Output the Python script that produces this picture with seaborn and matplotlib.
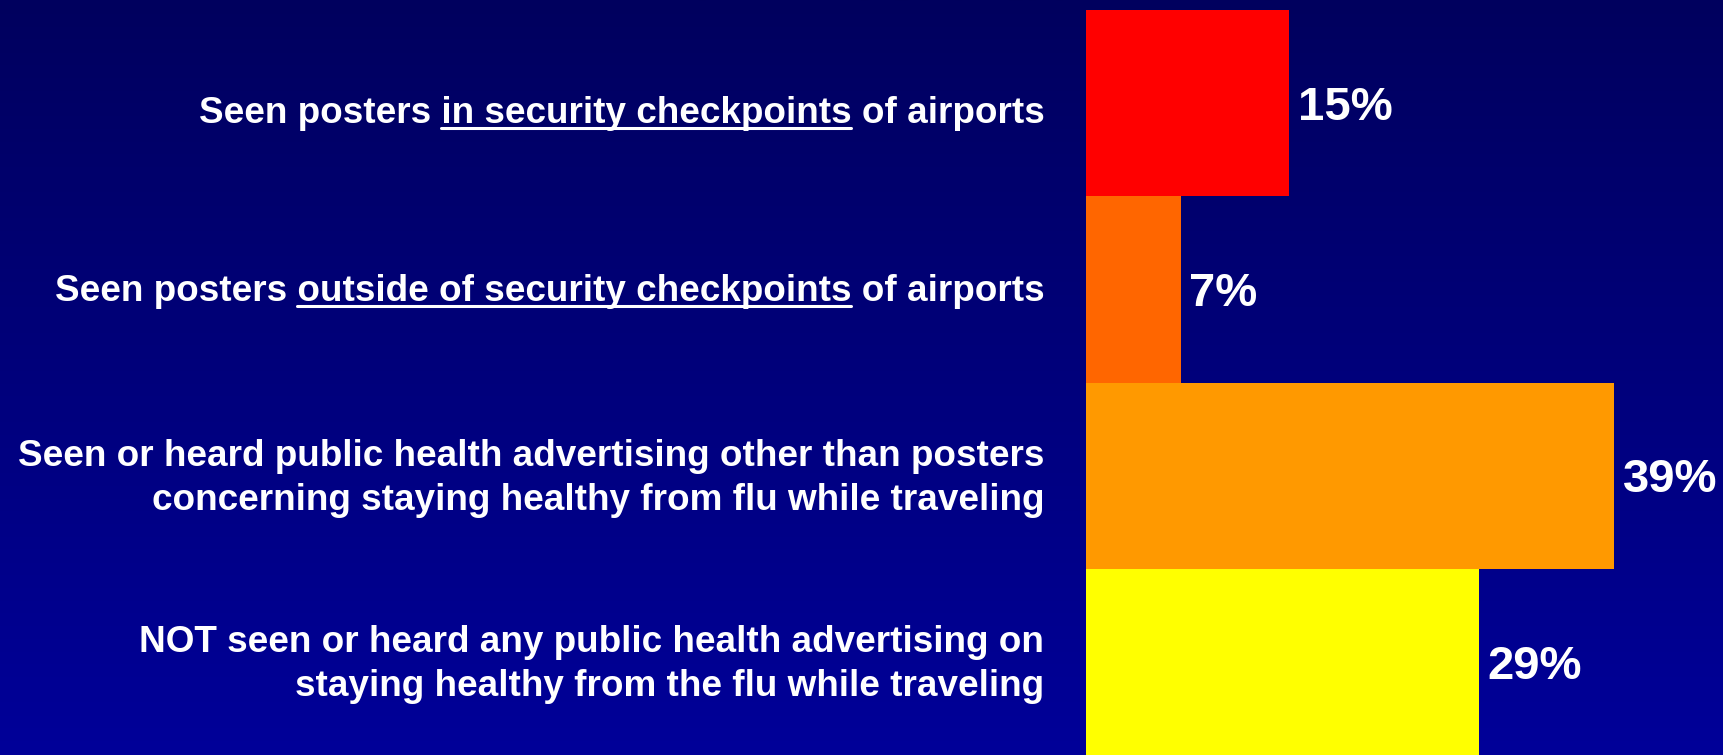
import numpy as np
import pandas as pd
import matplotlib.pyplot as plt
import seaborn as sns
from matplotlib.lines import Line2D
import matplotlib.transforms as mtransforms

# Chart data
categories = [
    "Seen posters in security checkpoints of airports",
    "Seen posters outside of security checkpoints of airports",
    "Seen or heard public health advertising other than posters\nconcerning staying healthy from flu while traveling",
    "NOT seen or heard any public health advertising on\nstaying healthy from the flu while traveling",
]
values = [15, 7, 39, 29]
underlined = ["in security checkpoints", "outside of security checkpoints", None, None]
bar_colors = ["#FF0000", "#FF6600", "#FF9900", "#FFFF00"]

sns.set_style("white")
plt.rcParams['font.family'] = ['Liberation Sans', 'DejaVu Sans']
plt.rcParams['font.weight'] = 'bold'

W, H, DPI = 1723, 755, 100
fig = plt.figure(figsize=(W / DPI, H / DPI), dpi=DPI)

# background gradient (dark navy at top, brighter blue at bottom)
bg = fig.add_axes([0, 0, 1, 1], zorder=0)
grad = np.linspace(0, 1, 256).reshape(-1, 1)
top = np.array([0x00, 0x00, 0x5E]) / 255
bottom = np.array([0x00, 0x00, 0x99]) / 255
img = top[None, None, :] * (1 - grad[:, :, None]) + bottom[None, None, :] * grad[:, :, None]
bg.imshow(img, aspect='auto', extent=[0, 1, 0, 1])
bg.set_axis_off()

# main axes: zero line at x=1086px, bars fill from y=10px to the bottom
x0 = 1086
ax = fig.add_axes([x0 / W, 0, (W - x0) / W, (H - 10) / H], zorder=1)
ax.patch.set_alpha(0)

df = pd.DataFrame({"label": categories, "value": values})
sns.barplot(data=df, x="value", y="label", hue="label", palette=bar_colors,
            orient="h", width=1.0, legend=False, ax=ax, saturation=1,
            edgecolor='none', linewidth=0)

ax.set_xlim(0, (W - x0) / 13.55)
ax.set_ylim(3.5, -0.5)
ax.set_xlabel("")
ax.set_ylabel("")
ax.set_xticks([])
sns.despine(ax=ax, left=True, bottom=True)
ax.tick_params(axis='y', length=0, pad=30, labelsize=26.6, labelcolor='white')

# small vertical nudges (points) so the labels sit where the original has them
nudges = [-4.5, 1.5, 4.0, 4.0]
for t, dy in zip(ax.get_yticklabels(), nudges):
    t.set_fontweight('bold')
    t.set_linespacing(1.33)
    t.set_transform(t.get_transform() + mtransforms.ScaledTranslation(0, dy / 72, fig.dpi_scale_trans))

for cont in ax.containers:
    for ann in ax.bar_label(cont, fmt='%d%%', padding=6, color='white',
                            fontsize=34, fontweight='bold'):
        ann.xyann = (6, -3.5)

# underline parts of the first two labels
fig.canvas.draw()
renderer = fig.canvas.get_renderer()
inv = fig.transFigure.inverted()
for t, sub in zip(ax.get_yticklabels(), underlined):
    if not sub:
        continue
    text = t.get_text()
    prop = t.get_fontproperties()
    bb = t.get_window_extent(renderer)
    i = text.index(sub)
    word = sub.split(" ")[0]
    w_pre_first = renderer.get_text_width_height_descent(text[:i] + word, prop, ismath=False)[0]
    w_first = renderer.get_text_width_height_descent(word, prop, ismath=False)[0]
    w_end = renderer.get_text_width_height_descent(text[:i + len(sub)], prop, ismath=False)[0]
    d = renderer.get_text_width_height_descent("lp", prop, ismath=False)[2]
    xs = bb.x0 + w_pre_first - w_first
    xe = bb.x0 + w_end
    yl = bb.y0 + d - 5
    (fx0, fy), (fx1, _) = inv.transform([(xs, yl), (xe, yl)])
    fig.add_artist(Line2D([fx0, fx1], [fy, fy], color='white', lw=2.2,
                          transform=fig.transFigure, zorder=3))

fig.savefig("out.png", dpi=DPI)
